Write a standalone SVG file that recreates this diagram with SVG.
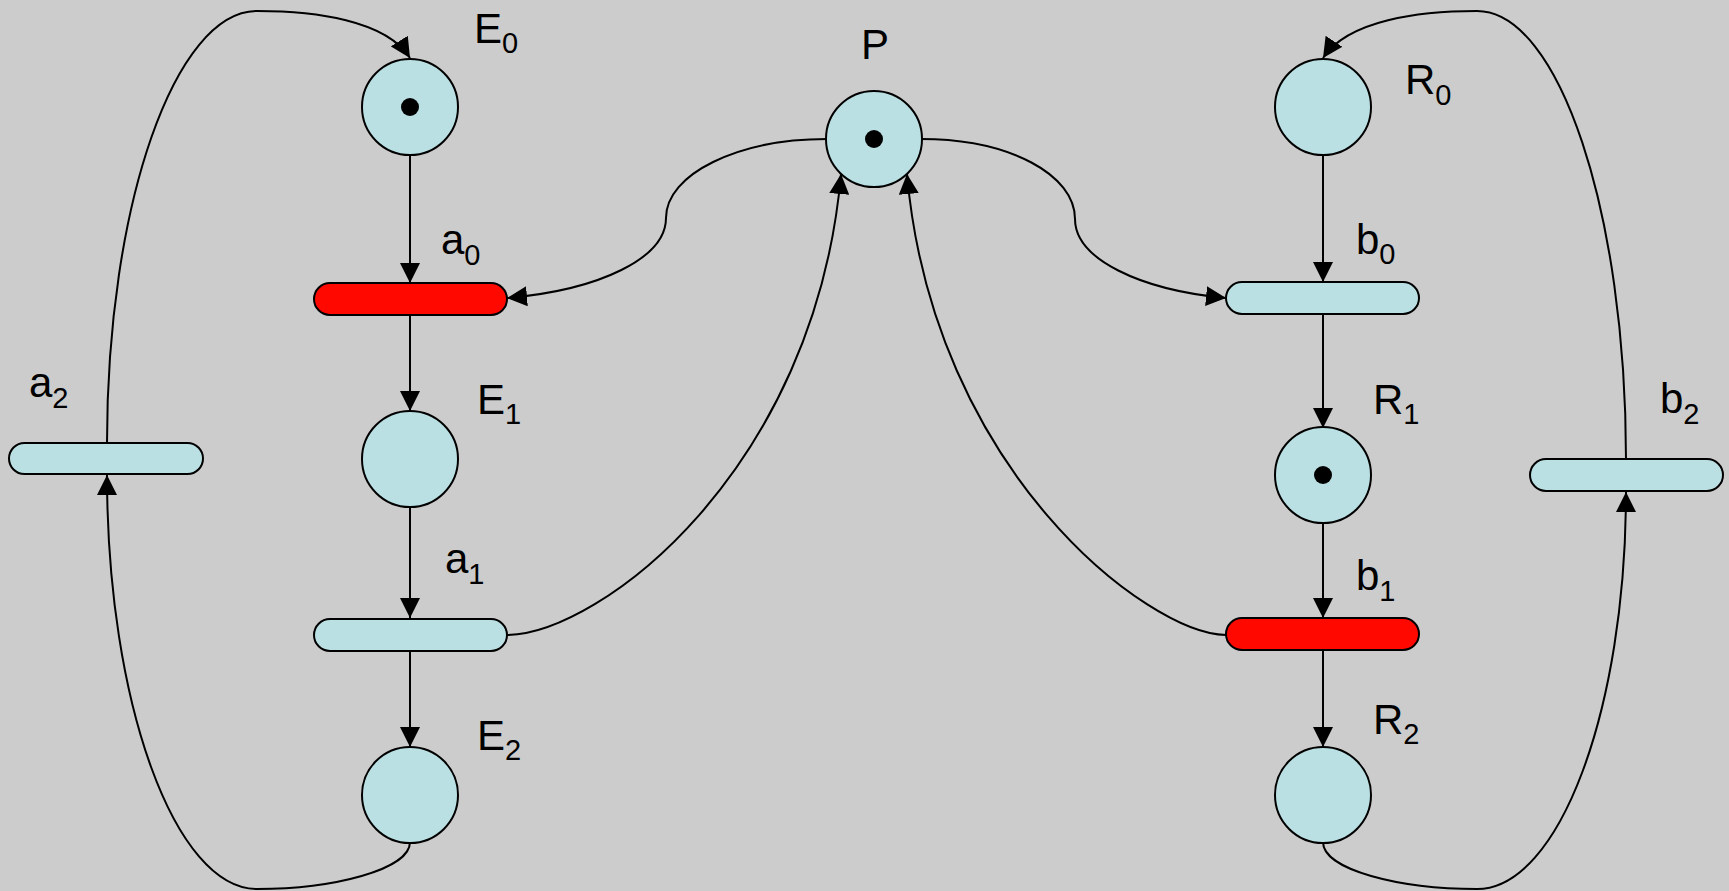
<svg xmlns="http://www.w3.org/2000/svg" width="1729" height="891" viewBox="0 0 1729 891">
<style>
.place{fill:#BAE0E3;stroke:#000;stroke-width:2}
.tr{fill:#BAE0E3;stroke:#000;stroke-width:2}
.fire{fill:#FF0800;stroke:#000;stroke-width:2}
.tok{fill:#000}
.lbl{font-family:"Liberation Sans",Arial,sans-serif;font-size:42px;fill:#000}
.sub{font-size:29px}
.arc{fill:none;stroke:#000;stroke-width:2;marker-end:url(#ah)}
</style>
<defs>
<marker id="ah" markerUnits="userSpaceOnUse" markerWidth="20" markerHeight="20" viewBox="0 0 20 20" refX="20" refY="10" orient="auto">
<path d="M0,0 L20,10 L0,20 z" fill="#000"/>
</marker>
</defs>
<rect width="1729" height="891" fill="#CCCCCC"/>
<g id="connectors">
<path class="arc" d="M410,155 L410,283"/>
<path class="arc" d="M410,315 L410,411"/>
<path class="arc" d="M410,507 L410,618"/>
<path class="arc" d="M410,651 L410,747"/>
<path class="arc" d="M1323,155 L1323,282"/>
<path class="arc" d="M1323,314 L1323,428"/>
<path class="arc" d="M1323,522 L1323,618"/>
<path class="arc" d="M1323,650 L1323,747"/>
<path class="arc" d="M827,139 C738,139 666,174 666,218 C666,258 600,290 507,298"/>
<path class="arc" d="M921,139 C1010,139 1075,175 1075,219 C1075,259 1140,290 1226,298"/>
<path class="arc" d="M507,635 C600,634 815,470 841,174"/>
<path class="arc" d="M1226,635 C1148,634 933,470 907,174"/>
<path class="arc" d="M410,842 C410,870 332,889 257,889 C175,889 107,703 107,475"/>
<path class="arc" d="M107,443 C107,205 175,11 257,11 C314,11 386,20 410,58"/>
<path class="arc" d="M1626,459 C1626,212 1559,11 1477,11 C1420,11 1348,20 1323,58"/>
<path class="arc" d="M1323,842 C1323,870 1400,889 1477,889 C1559,889 1626,710 1626,492"/>
</g>
<g id="E0"><circle class="place" cx="410" cy="107" r="48"/><circle class="tok" cx="410" cy="107" r="9"/><text class="lbl" x="474" y="43">E<tspan class="sub" dy="10">0</tspan></text></g>
<g id="E1"><circle class="place" cx="410" cy="459" r="48"/><text class="lbl" x="477" y="414">E<tspan class="sub" dy="10">1</tspan></text></g>
<g id="E2"><circle class="place" cx="410" cy="795" r="48"/><text class="lbl" x="477" y="750">E<tspan class="sub" dy="10">2</tspan></text></g>
<g id="P"><circle class="place" cx="874" cy="139" r="48"/><circle class="tok" cx="874" cy="139" r="9"/><text class="lbl" x="861" y="59">P</text></g>
<g id="R0"><circle class="place" cx="1323" cy="107" r="48"/><text class="lbl" x="1405" y="94">R<tspan class="sub" dy="11">0</tspan></text></g>
<g id="R1"><circle class="place" cx="1323" cy="475" r="48"/><circle class="tok" cx="1323" cy="475" r="9"/><text class="lbl" x="1373" y="414">R<tspan class="sub" dy="10">1</tspan></text></g>
<g id="R2"><circle class="place" cx="1323" cy="795" r="48"/><text class="lbl" x="1373" y="734">R<tspan class="sub" dy="10">2</tspan></text></g>
<g id="a0"><rect class="fire" x="314" y="283" width="193" height="32" rx="16" ry="16"/><text class="lbl" x="441" y="254">a<tspan class="sub" dy="11">0</tspan></text></g>
<g id="a1"><rect class="tr" x="314" y="619" width="193" height="32" rx="16" ry="16"/><text class="lbl" x="445" y="573">a<tspan class="sub" dy="11">1</tspan></text></g>
<g id="a2"><rect class="tr" x="9" y="443" width="194" height="31" rx="15.5" ry="15.5"/><text class="lbl" x="29" y="397">a<tspan class="sub" dy="11">2</tspan></text></g>
<g id="b0"><rect class="tr" x="1226" y="282" width="193" height="32" rx="16" ry="16"/><text class="lbl" x="1356" y="254">b<tspan class="sub" dy="10">0</tspan></text></g>
<g id="b1"><rect class="fire" x="1226" y="618" width="193" height="32" rx="16" ry="16"/><text class="lbl" x="1356" y="590">b<tspan class="sub" dy="11">1</tspan></text></g>
<g id="b2"><rect class="tr" x="1530" y="459" width="193" height="32" rx="16" ry="16"/><text class="lbl" x="1660" y="413">b<tspan class="sub" dy="11">2</tspan></text></g>
</svg>
